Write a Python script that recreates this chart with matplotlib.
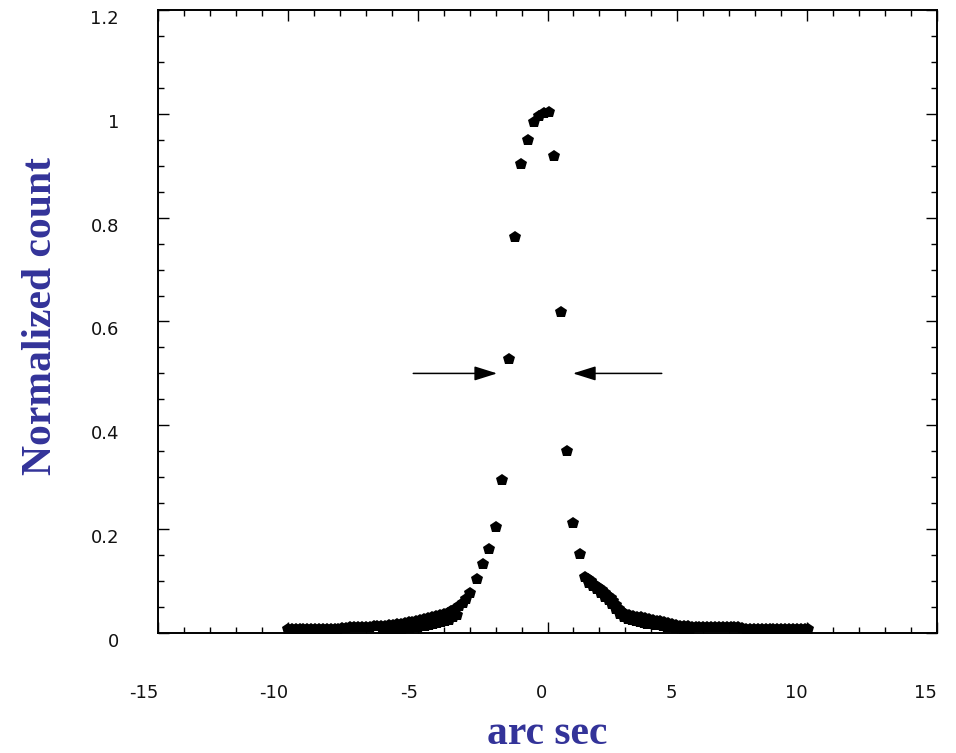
import matplotlib
matplotlib.use("Agg")
import matplotlib.pyplot as plt
import numpy as np

# Outer left wing of the profile (arc sec, normalized count)
left_wing_x = [-10.00, -9.85, -9.70, -9.55, -9.40, -9.25, -9.10, -8.95, -8.80, -8.65,
               -8.50, -8.35, -8.20, -8.05, -7.90, -7.75, -7.60, -7.45, -7.30, -7.15,
               -7.00, -6.85, -6.70, -6.55, -6.40, -6.25, -6.10, -5.95, -5.80, -5.65,
               -5.50, -5.35, -5.20, -5.05, -4.90, -4.75, -4.60, -4.45, -4.30, -4.15,
               -4.00, -3.85, -3.70, -3.55, -3.40, -3.25, -3.12]
left_wing_y = [0.008, 0.008, 0.008, 0.008, 0.008, 0.008, 0.008, 0.008, 0.008, 0.008,
               0.008, 0.008, 0.008, 0.008, 0.009, 0.009, 0.012, 0.012, 0.012, 0.012,
               0.012, 0.012, 0.013, 0.013, 0.013, 0.013, 0.016, 0.016, 0.017, 0.018,
               0.020, 0.021, 0.022, 0.024, 0.025, 0.027, 0.028, 0.030, 0.032, 0.034,
               0.036, 0.039, 0.042, 0.047, 0.052, 0.058, 0.066]

# Lower scatter within the left wing
left_low_x = [-6.35, -6.20, -6.05, -5.90, -5.75, -5.60, -5.45, -5.30, -5.15, -5.00,
              -4.85, -4.70, -4.55, -4.40, -4.25, -4.10, -3.95, -3.80, -3.65, -3.50]
left_low_y = [0.006, 0.006, 0.007, 0.007, 0.008, 0.008, 0.009, 0.010, 0.011, 0.012,
              0.013, 0.014, 0.015, 0.017, 0.019, 0.021, 0.023, 0.026, 0.030, 0.035]

# Core of the profile
core_x = [-2.98, -2.71, -2.48, -2.25, -1.98, -1.75, -1.48, -1.25, -1.02, -0.75,
          -0.51, -0.32, -0.13, 0.07, 0.25, 0.52, 0.75, 0.98, 1.25]
core_y = [0.077, 0.104, 0.133, 0.162, 0.204, 0.295, 0.528, 0.763, 0.904, 0.950,
          0.985, 0.996, 1.001, 1.004, 0.919, 0.618, 0.351, 0.212, 0.152]

# Outer right wing of the profile
right_wing_x = [1.44, 1.55, 1.66, 1.77, 1.88, 1.99, 2.10, 2.21, 2.32, 2.43,
                2.54, 2.65, 2.76, 2.88, 3.00, 3.15, 3.30, 3.45, 3.60, 3.75,
                3.90, 4.05, 4.20, 4.35, 4.50, 4.65, 4.80, 4.95, 5.10, 5.25,
                5.40, 5.55, 5.70, 5.85, 6.00, 6.15, 6.30, 6.45, 6.60, 6.75,
                6.90, 7.05, 7.20, 7.35, 7.50, 7.65, 7.80, 7.95, 8.10, 8.25,
                8.40, 8.55, 8.70, 8.85, 9.00, 9.15, 9.30, 9.45, 9.60, 9.75,
                9.90, 10.02]
right_wing_y = [0.108, 0.104, 0.100, 0.095, 0.091, 0.087, 0.082, 0.077, 0.072, 0.067,
                0.061, 0.054, 0.046, 0.040, 0.037, 0.035, 0.033, 0.031, 0.030, 0.028,
                0.027, 0.026, 0.024, 0.023, 0.021, 0.019, 0.017, 0.015, 0.014, 0.013,
                0.013, 0.012, 0.012, 0.011, 0.011, 0.011, 0.011, 0.011, 0.011, 0.011,
                0.011, 0.011, 0.011, 0.011, 0.010, 0.007, 0.007, 0.007, 0.007, 0.007,
                0.007, 0.007, 0.007, 0.007, 0.007, 0.007, 0.007, 0.007, 0.007, 0.007,
                0.007, 0.007]

# Lower scatter within the right wing
right_low_x = [1.60, 1.75, 1.90, 2.05, 2.20, 2.35, 2.50, 2.65, 2.80, 2.95,
               3.10, 3.25, 3.40, 3.55, 3.70, 3.85, 4.00, 4.15, 4.30, 4.45,
               4.60, 4.75, 4.90, 5.05, 5.20, 5.35, 5.50]
right_low_y = [0.096, 0.090, 0.084, 0.077, 0.070, 0.063, 0.055, 0.046, 0.036, 0.030,
               0.027, 0.025, 0.023, 0.021, 0.020, 0.018, 0.017, 0.016, 0.015, 0.013,
               0.012, 0.011, 0.010, 0.009, 0.008, 0.008, 0.007]

# Half-maximum markers: (tail, tip) in arc sec, at this level
half_level = 0.5
left_arrow = (-5.17, -1.94)
right_arrow = (4.40, 0.98)

x_ticks = [-15, -10, -5, 0, 5, 10, 15]
y_ticks = [0, 0.2, 0.4, 0.6, 0.8, 1, 1.2]
y_tick_labels = ["0", "0.2", "0.4", "0.6", "0.8", "1", "1.2"]

label_color = "#333399"

fig = plt.figure(figsize=(9.56, 7.53), dpi=100)
ax = fig.add_axes([158 / 956, 120 / 753, 779 / 956, 623 / 753])

xs = left_wing_x + left_low_x + core_x + right_wing_x + right_low_x
ys = left_wing_y + left_low_y + core_y + right_wing_y + right_low_y
ax.plot(xs, ys, linestyle="none", marker="p", markersize=8.6,
        color="black", markeredgewidth=0)

for tail, tip in (left_arrow, right_arrow):
    ax.annotate("", xy=(tip, half_level), xytext=(tail, half_level),
                arrowprops=dict(arrowstyle="-|>,head_length=0.7,head_width=0.22",
                                mutation_scale=20, color="black", lw=1.1,
                                shrinkA=0, shrinkB=0))

ax.set_xlim(-15, 15)
ax.set_ylim(0, 1.2)
ax.set_xticks(x_ticks)
ax.set_xticklabels([str(t) for t in x_ticks])
ax.set_yticks(y_ticks)
ax.set_yticklabels(y_tick_labels)
ax.xaxis.set_minor_locator(matplotlib.ticker.MultipleLocator(1))
ax.yaxis.set_minor_locator(matplotlib.ticker.MultipleLocator(0.05))

for s in ax.spines.values():
    s.set_linewidth(1.4)

ax.tick_params(which="both", direction="in", top=True, right=True, width=1.0,
               color="black")
ax.tick_params(which="major", length=8)
ax.tick_params(which="minor", length=4.3)
ax.tick_params(axis="x", which="major", pad=37, labelsize=13, labelcolor="#111111")
ax.tick_params(axis="y", which="major", pad=28, labelsize=13, labelcolor="#111111")
for lab in ax.get_xticklabels():
    lab.set_horizontalalignment("right")
for lab in ax.get_yticklabels():
    lab.set_verticalalignment("top")

serif_bold = dict(family="Liberation Serif", weight="bold", size=30, color=label_color)
ax.set_xlabel("arc sec", va="baseline", ha="center", **serif_bold)
ax.xaxis.set_label_coords(0.4994, -0.178)
ax.set_ylabel("Normalized count", va="center", ha="center", **serif_bold)
ax.yaxis.set_label_coords(-0.150, 0.509)

fig.savefig("out.png", dpi=100)
